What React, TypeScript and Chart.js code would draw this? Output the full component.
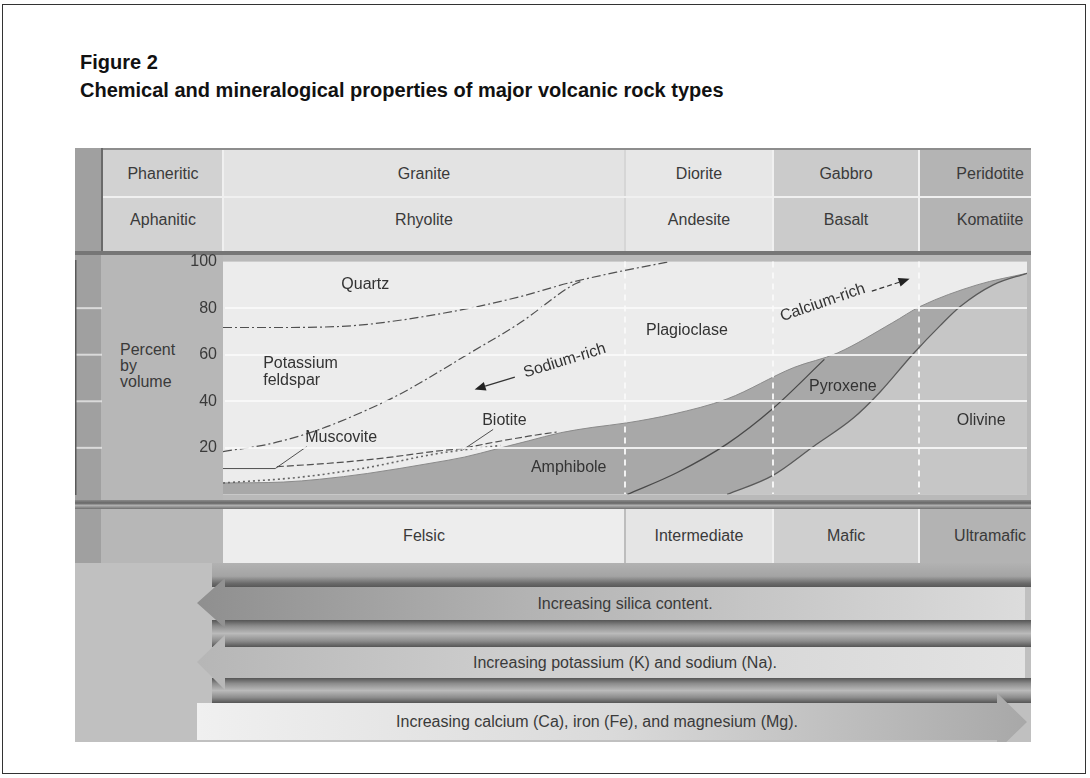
import { useEffect, useRef } from 'react';
import { Chart, registerables } from 'chart.js';

Chart.register(...registerables);

// ---------------- values ----------------
const phaneriticRow = ['Phaneritic', 'Granite', 'Diorite', 'Gabbro', 'Peridotite'];
const aphaniticRow = ['Aphanitic', 'Rhyolite', 'Andesite', 'Basalt', 'Komatiite'];
const compositionRow = ['Felsic', 'Intermediate', 'Mafic', 'Ultramafic'];
const columnBounds = [0, 50, 68.4, 86.6, 100];
const yTickValues = [20, 40, 60, 80, 100];
const trendLabels = [
  'Increasing silica content.',
  'Increasing potassium (K) and sodium (Na).',
  'Increasing calcium (Ca), iron (Fe), and magnesium (Mg).',
];

const quartzX = [0, 8, 16.2, 22.4, 30.7, 37, 43.2, 49, 55.6];
const quartzY = [71.7, 71.7, 72.5, 75, 80, 85, 91, 95.5, 100];
const kFeldsparX = [0, 5.8, 12, 18.3, 22.4, 30.7, 37, 43.2, 44.5];
const kFeldsparY = [18.4, 21.7, 27.9, 36.9, 43.8, 60.7, 73.8, 89.3, 91.5];
const muscoviteX = [0, 6.5, 10.4];
const muscoviteY = [11.1, 11.1, 20.5];
const biotiteUpperX = [6.7, 13.7, 19.9, 26.1, 29.5, 34, 38, 41.5];
const biotiteUpperY = [11.9, 13.5, 15.6, 18.4, 19.7, 22.6, 25, 26.8];
const biotiteLowerX = [0, 9.6, 17.9, 26.1, 30.3, 34.5];
const biotiteLowerY = [4.9, 7.4, 11.5, 17.2, 19.3, 21];
const biotiteLeaderX = [29.9, 33.6];
const biotiteLeaderY = [19.3, 27.9];
const maficTopX = [0, 7.5, 12, 18, 26, 30, 34, 38, 42, 46, 50.2, 56, 62.7, 71, 76.4, 83.3, 86.7, 93.8, 100];
const maficTopY = [4.9, 5.3, 6.5, 9, 13.5, 16, 19.5, 23, 26.5, 28.8, 30.7, 34.5, 41, 54.5, 60.7, 73.8, 80.7, 90, 95];
const amphPyxX = [50.3, 56.5, 62.7, 68.4, 74.8];
const amphPyxY = [0, 9.4, 21.7, 36.9, 58];
const pyxOlX = [62.7, 68.4, 73.4, 78.4, 81.7, 85.8, 89.2, 91.7, 95.8, 100];
const pyxOlY = [0, 8.2, 20.5, 32.8, 43.9, 60.2, 72.5, 80.7, 90, 95];

const mineralNames = ['Quartz', 'Potassium\nfeldspar', 'Muscovite', 'Biotite', 'Amphibole', 'Plagioclase', 'Pyroxene', 'Olivine'];
const mineralX = [17.7, 5.0, 14.7, 35, 43, 57.7, 77.1, 94.3];
const mineralY = [90, 52.7, 24.6, 31.6, 11.5, 70.5, 46.3, 31.6];
const mineralAlign = ['center', 'left', 'center', 'center', 'center', 'center', 'center', 'center'];

const trendNames = ['Sodium-rich', 'Calcium-rich'];
const trendX = [42.5, 74.6];
const trendY = [57.4, 82.4];
const trendAngle = [-17, -19];
const trendArrowFromX = [36.3, 80.7];
const trendArrowFromY = [50.4, 87.3];
const trendArrowToX = [31.3, 85.4];
const trendArrowToY = [45.1, 92.6];
const trendArrowDash = [false, true];

// ---------------- layout ----------------
const FONT = '"Liberation Sans", Arial, Helvetica, sans-serif';
const PLOT_L = 223;
const PLOT_R = 1027;
const colPx = (v: number) => PLOT_L + ((PLOT_R - PLOT_L) * v) / 100;

const pts = (xs: number[], ys: number[]) => xs.map((x, i) => ({ x, y: ys[i] }));
const line = (xs: number[], ys: number[], extra: any) => ({
  data: pts(xs, ys),
  pointRadius: 0,
  borderWidth: 1.2,
  borderColor: '#505050',
  fill: false,
  tension: 0.4,
  cubicInterpolationMode: 'monotone',
  ...extra,
});

function drawArrow(ctx: CanvasRenderingContext2D, x1: number, y1: number, x2: number, y2: number, dashed: boolean) {
  const ang = Math.atan2(y2 - y1, x2 - x1);
  const hl = 11;
  const hw = 4.5;
  const bx = x2 - hl * Math.cos(ang);
  const by = y2 - hl * Math.sin(ang);
  ctx.save();
  ctx.strokeStyle = '#333';
  ctx.fillStyle = '#222';
  ctx.lineWidth = 1.2;
  ctx.setLineDash(dashed ? [5, 3] : []);
  ctx.beginPath();
  ctx.moveTo(x1, y1);
  ctx.lineTo(bx, by);
  ctx.stroke();
  ctx.setLineDash([]);
  ctx.beginPath();
  ctx.moveTo(x2, y2);
  ctx.lineTo(bx + hw * Math.sin(ang), by - hw * Math.cos(ang));
  ctx.lineTo(bx - hw * Math.sin(ang), by + hw * Math.cos(ang));
  ctx.closePath();
  ctx.fill();
  ctx.restore();
}

const annotationPlugin = {
  id: 'mineralAnnotations',
  beforeDraw(chart: any) {
    const { ctx, chartArea: a, scales } = chart;
    const y = scales.y;
    ctx.save();
    ctx.fillStyle = '#ececec';
    ctx.fillRect(a.left, a.top, a.right - a.left, a.bottom - a.top);
    ctx.strokeStyle = 'rgba(232,232,232,0.8)';
    ctx.lineWidth = 2;
    yTickValues.slice(0, -1).forEach((v) => {
      const py = y.getPixelForValue(v);
      ctx.beginPath();
      ctx.moveTo(0, py);
      ctx.lineTo(27, py);
      ctx.stroke();
    });
    ctx.restore();
  },
  afterDraw(chart: any) {
    const { ctx, scales } = chart;
    const { x, y } = scales;
    ctx.save();
    ctx.font = `16px ${FONT}`;
    ctx.fillStyle = '#333';
    ctx.textBaseline = 'middle';
    mineralNames.forEach((name, i) => {
      const lines = name.split('\n');
      const px = x.getPixelForValue(mineralX[i]);
      const py = y.getPixelForValue(mineralY[i]);
      ctx.textAlign = mineralAlign[i] as CanvasTextAlign;
      lines.forEach((ln, j) => ctx.fillText(ln, px, py + (j - (lines.length - 1) / 2) * 17));
    });
    trendNames.forEach((name, i) => {
      const px = x.getPixelForValue(trendX[i]);
      const py = y.getPixelForValue(trendY[i]);
      ctx.save();
      ctx.translate(px, py);
      ctx.rotate((trendAngle[i] * Math.PI) / 180);
      ctx.textAlign = 'center';
      ctx.fillText(name, 0, 0);
      ctx.restore();
      drawArrow(
        ctx,
        x.getPixelForValue(trendArrowFromX[i]),
        y.getPixelForValue(trendArrowFromY[i]),
        x.getPixelForValue(trendArrowToX[i]),
        y.getPixelForValue(trendArrowToY[i]),
        trendArrowDash[i]
      );
    });
    ctx.restore();
  },
};

const topColors = ['#d2d2d2', '#e3e3e3', '#e7e7e7', '#cbcbcb', '#b4b4b4'];
const bottomColors = ['#ededed', '#e5e5e5', '#cfcfcf', '#b3b3b3'];

function abs(x: number, y: number, w: number, h: number, style: any = {}) {
  return { position: 'absolute' as const, left: x, top: y, width: w, height: h, ...style };
}

const centerText = {
  display: 'flex',
  alignItems: 'center',
  justifyContent: 'center',
  whiteSpace: 'nowrap' as const,
  fontSize: 16,
  color: '#3a3a3a',
};

export default function App() {
  const canvasRef = useRef<HTMLCanvasElement>(null);

  useEffect(() => {
    const chart = new Chart(canvasRef.current as HTMLCanvasElement, {
      type: 'line',
      data: {
        datasets: [
          line(quartzX, quartzY, { label: 'Quartz', borderDash: [9, 3, 2, 3], order: 1 }),
          line(kFeldsparX, kFeldsparY, { label: 'Potassium feldspar', borderDash: [9, 3, 2, 3], order: 1 }),
          line(muscoviteX, muscoviteY, { label: 'Muscovite', tension: 0, cubicInterpolationMode: 'default', borderWidth: 1, order: 1 }),
          line(biotiteUpperX, biotiteUpperY, { label: 'Biotite upper', borderDash: [7, 3], order: 1 }),
          line(biotiteLowerX, biotiteLowerY, { label: 'Biotite lower', borderDash: [2, 3], borderWidth: 1.6, borderColor: '#666', order: 1 }),
          line(biotiteLeaderX, biotiteLeaderY, { label: 'Biotite leader', tension: 0, cubicInterpolationMode: 'default', borderWidth: 1, order: 1 }),
          line(amphPyxX, amphPyxY, { label: 'Amphibole / Pyroxene', borderWidth: 1.3, borderColor: '#4a4a4a', order: 2 }),
          line(pyxOlX, pyxOlY, { label: 'Olivine', fill: 'origin', backgroundColor: '#c6c6c6', borderColor: '#5a5a5a', borderWidth: 1.3, order: 3 }),
          line(maficTopX, maficTopY, { label: 'Amphibole + Pyroxene', fill: 'origin', backgroundColor: '#a8a8a8', borderColor: '#8a8a8a', borderWidth: 1, order: 4 }),
        ] as any,
      },
      options: {
        responsive: false,
        animation: false,
        devicePixelRatio: 1,
        events: [],
        layout: { padding: { top: 10, right: 3, bottom: 10, left: 0 } },
        plugins: { legend: { display: false }, tooltip: { enabled: false } },
        scales: {
          x: {
            type: 'linear',
            min: 0,
            max: 100,
            afterBuildTicks: (s: any) => {
              s.ticks = columnBounds.slice(1, -1).map((v) => ({ value: v }));
            },
            afterFit: (s: any) => {
              s.height = 0;
            },
            ticks: { display: false },
            grid: { display: true, color: 'rgba(250,250,250,0.9)', lineWidth: 2, drawTicks: false, z: 1 },
            border: { display: false, dash: [6, 5] },
          },
          y: {
            type: 'linear',
            min: 0,
            max: 100,
            afterBuildTicks: (s: any) => {
              s.ticks = yTickValues.map((v) => ({ value: v }));
            },
            afterFit: (s: any) => {
              s.width = 148;
            },
            ticks: { font: { size: 16, family: FONT }, color: '#3a3a3a', padding: 6 },
            grid: {
              color: (c: any) => (c.tick && c.tick.value === 100 ? 'rgba(0,0,0,0)' : 'rgba(250,250,250,0.85)'),
              lineWidth: 2,
              drawTicks: false,
              z: 1,
            },
            border: { display: true, color: '#5a5a5a', width: 3 },
          },
        } as any,
      },
      plugins: [annotationPlugin],
    });
    return () => chart.destroy();
  }, []);

  const cols = columnBounds.slice(0, -1).map((b, i) => ({ l: colPx(b), r: colPx(columnBounds[i + 1]) }));
  const topCells = [{ l: 103, r: 223 }, ...cols];

  return (
    <div style={abs(0, 0, 1090, 778, { background: '#fff', fontFamily: FONT, overflow: 'hidden' })}>
      <div style={abs(2, 4, 1084, 770, { border: '1px solid #333', boxSizing: 'border-box' })} />
      <div style={abs(80, 50, 960, 24, { fontWeight: 'bold', fontSize: 20, lineHeight: '24px', color: '#111' })}>Figure 2</div>
      <div style={abs(80, 78, 960, 24, { fontWeight: 'bold', fontSize: 20, lineHeight: '24px', color: '#111' })}>
        Chemical and mineralogical properties of major volcanic rock types
      </div>

      <div style={{ position: 'absolute', left: 0, top: 0, width: 1090, height: 778, clipPath: 'inset(148px 59px 36px 75px)' }}>
        {/* figure base */}
        <div style={abs(75, 148, 960, 600, { background: '#b9b9b9' })} />
        <div style={abs(75, 148, 26, 420, { background: '#a0a0a0' })} />
        <div style={abs(101, 148, 2, 104, { background: '#6a6a6a' })} />

        {/* top table */}
        {topCells.map((c, i) => (
          <div key={'tc' + i}>
            <div style={abs(c.l, 148, (i === 4 ? c.r + 6 : c.r) - c.l, 104, { background: topColors[i] })} />
            <div style={abs(c.l, 150, (i === 4 ? c.r + 34 : c.r) - c.l, 47, centerText)}>{phaneriticRow[i]}</div>
            <div style={abs(c.l, 197, (i === 4 ? c.r + 34 : c.r) - c.l, 46, centerText)}>{aphaniticRow[i]}</div>
            {i > 0 && <div style={abs(c.l - 1, 148, 2, 104, { background: i === 2 ? '#d6d6d6' : '#f0f0f0' })} />}
          </div>
        ))}
        <div style={abs(103, 148, 930, 2, { background: '#8d8d8d' })} />
        <div style={abs(103, 196, 930, 2, { background: '#f0f0f0' })} />
        <div style={abs(75, 251, 960, 4, { background: '#767676' })} />

        {/* left of plot */}
        <div style={abs(101, 255, 122, 250, { background: '#b7b7b7' })} />
        <div style={abs(120, 342, 90, 50, { fontSize: 16, lineHeight: '16px', color: '#3a3a3a' })}>
          Percent
          <br />
          by
          <br />
          volume
        </div>

        <canvas ref={canvasRef} width={955} height={264} style={abs(75, 246, 955, 264, { display: 'block' })} />

        {/* bottom table */}
        <div style={abs(75, 500, 960, 9, { background: 'linear-gradient(#8a8a8a, #666 35%, #b0b0b0 60%, #707070 100%)' })} />
        <div style={abs(101, 509, 122, 54, { background: '#b7b7b7' })} />
        {cols.map((c, i) => (
          <div key={'bc' + i}>
            <div style={abs(c.l, 509, (i === 3 ? c.r + 6 : c.r) - c.l, 54, { background: bottomColors[i] })} />
            <div style={abs(c.l, 509, (i === 3 ? c.r + 34 : c.r) - c.l, 54, centerText)}>{compositionRow[i]}</div>
            {i > 0 && <div style={abs(c.l - 1, 509, 2, 54, { background: i === 1 ? '#bdbdbd' : '#f0f0f0' })} />}
          </div>
        ))}

        {/* trend arrows area */}
        <div style={abs(75, 563, 960, 190, { background: '#c0c0c0' })} />
        <div style={abs(212, 563, 823, 24, { background: 'linear-gradient(#b2b2b2, #a4a4a4 55%, #6a6a6a 85%, #585858)' })} />
        <div style={abs(212, 620, 823, 27, { background: 'linear-gradient(#555, #8c8c8c 22%, #bababa 50%, #8c8c8c 78%, #555)' })} />
        <div style={abs(212, 678, 823, 25, { background: 'linear-gradient(#555, #8c8c8c 22%, #bababa 50%, #8c8c8c 78%, #555)' })} />

        <div
          style={abs(197, 578, 828, 50, {
            background: 'linear-gradient(to right, #8f8f8f, #b3b3b3 40%, #dcdcdc)',
            clipPath: 'polygon(0px 25px, 28px 0px, 28px 9px, 828px 9px, 828px 42px, 28px 42px, 28px 50px)',
          })}
        >
          <div style={abs(28, 9, 800, 33, centerText)}>{trendLabels[0]}</div>
        </div>
        <div
          style={abs(197, 635, 828, 55, {
            background: 'linear-gradient(to right, #b6b6b6, #cfcfcf 40%, #e3e3e3)',
            clipPath: 'polygon(0px 27px, 28px 0px, 28px 12px, 828px 12px, 828px 43px, 28px 43px, 28px 55px)',
          })}
        >
          <div style={abs(28, 12, 800, 31, centerText)}>{trendLabels[1]}</div>
        </div>
        <div
          style={abs(197, 693, 830, 58, {
            background: 'linear-gradient(to right, #f0f0f0, #dadada 50%, #a8a8a8)',
            clipPath: 'polygon(0px 10px, 800px 10px, 800px 0px, 830px 29px, 800px 58px, 800px 47px, 0px 47px)',
          })}
        >
          <div style={abs(0, 10, 800, 37, centerText)}>{trendLabels[2]}</div>
        </div>
      </div>
    </div>
  );
}
